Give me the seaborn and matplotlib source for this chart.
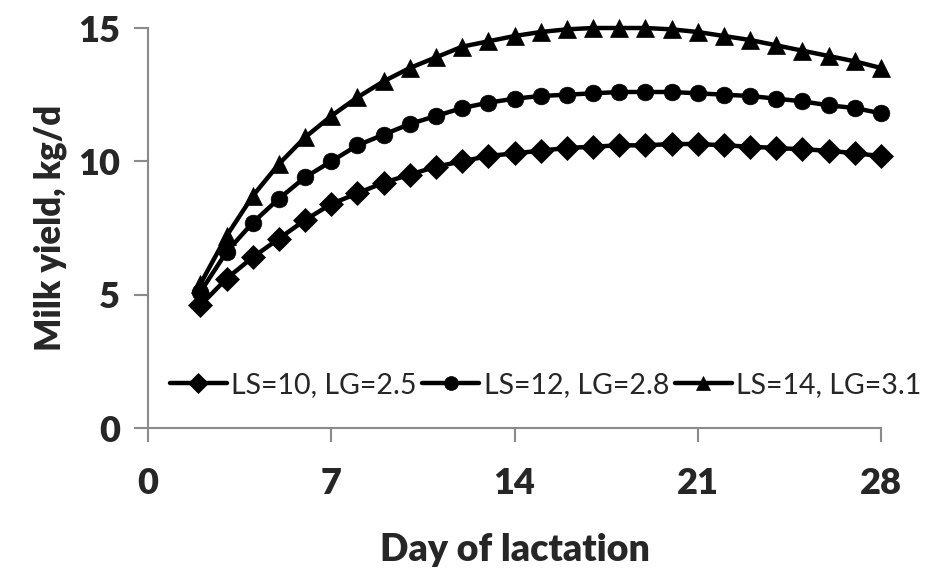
import matplotlib
matplotlib.use("Agg")
import matplotlib.pyplot as plt
import seaborn as sns
import pandas as pd

# Days of lactation with a modelled milk yield (kg/d)
days = list(range(2, 29))

yield_ls10 = [4.6, 5.6, 6.4, 7.1, 7.8, 8.4, 8.8, 9.2, 9.5, 9.8, 10.0, 10.2, 10.3,
              10.4, 10.5, 10.55, 10.6, 10.6, 10.65, 10.65, 10.6, 10.55, 10.5,
              10.45, 10.4, 10.3, 10.2]
yield_ls12 = [5.1, 6.6, 7.7, 8.6, 9.4, 10.0, 10.6, 11.0, 11.4, 11.7, 12.0, 12.2,
              12.35, 12.45, 12.5, 12.55, 12.6, 12.6, 12.6, 12.55, 12.5, 12.45,
              12.35, 12.25, 12.1, 12.0, 11.8]
yield_ls14 = [5.4, 7.2, 8.7, 9.9, 10.9, 11.7, 12.4, 13.0, 13.5, 13.9, 14.3, 14.5,
              14.7, 14.85, 14.95, 15.0, 15.0, 15.0, 14.95, 14.85, 14.7, 14.55,
              14.35, 14.15, 13.95, 13.75, 13.5]

series_names = ["LS=10, LG=2.5", "LS=12, LG=2.8", "LS=14, LG=3.1"]
series_markers = ["D", "o", "^"]
marker_sizes = [12.5, 12, 12.5]

x_ticks = [0, 7, 14, 21, 28]
y_ticks = [0, 5, 10, 15]

frames = []
for name, vals in zip(series_names, [yield_ls10, yield_ls12, yield_ls14]):
    frames.append(pd.DataFrame({"day": days, "milk": vals, "group": name}))
df = pd.concat(frames, ignore_index=True)

sns.set_theme(style="white")
plt.rcParams["font.family"] = ["Lato", "DejaVu Sans"]

fig = plt.figure(figsize=(9.36, 5.68), dpi=100)
ax = fig.add_axes([148 / 936, 1 - 428 / 568, (881 - 148) / 936, (428 - 28) / 568])

sns.lineplot(data=df, x="day", y="milk", style="group", markers=series_markers,
             dashes=False, color="black", linewidth=3.2, markersize=12,
             markeredgecolor="black", markeredgewidth=0.5, ax=ax, legend="brief")

for line, ms in zip(ax.lines, marker_sizes):
    line.set_markersize(ms)
    line.set_clip_on(False)

ax.set_xlim(0, 28)
ax.set_ylim(0, 15)
ax.set_xticks(x_ticks)
ax.set_yticks(y_ticks)

for side in ["top", "right"]:
    ax.spines[side].set_visible(False)
for side in ["left", "bottom"]:
    ax.spines[side].set_color("#8a8a8a")
    ax.spines[side].set_linewidth(1.5)

ax.tick_params(axis="both", which="major", direction="out", length=10,
               width=1.5, color="#8a8a8a", labelsize=26,
               bottom=True, left=True)
ax.tick_params(axis="x", pad=18)
ax.tick_params(axis="y", pad=10)
for lab in ax.get_xticklabels() + ax.get_yticklabels():
    lab.set_fontweight("heavy")

ax.set_xlabel("Day of lactation", fontsize=27, fontweight="heavy", labelpad=24)
ax.set_ylabel("Milk yield, kg/d", fontsize=25, fontweight="heavy", labelpad=8)

handles, labels = ax.get_legend_handles_labels()
for h in handles:
    h.set_linewidth(3.2)
    h.set_markersize(10)
leg = ax.legend(handles, labels, loc="center left",
                bbox_to_anchor=(170 / 936, 1 - 385 / 568),
                bbox_transform=fig.transFigure, ncol=3, frameon=False,
                fontsize=20.5, handlelength=2.0, handletextpad=0.15,
                columnspacing=0.2, borderpad=0, borderaxespad=0)

fig.savefig("out.png", dpi=100, facecolor="white")
